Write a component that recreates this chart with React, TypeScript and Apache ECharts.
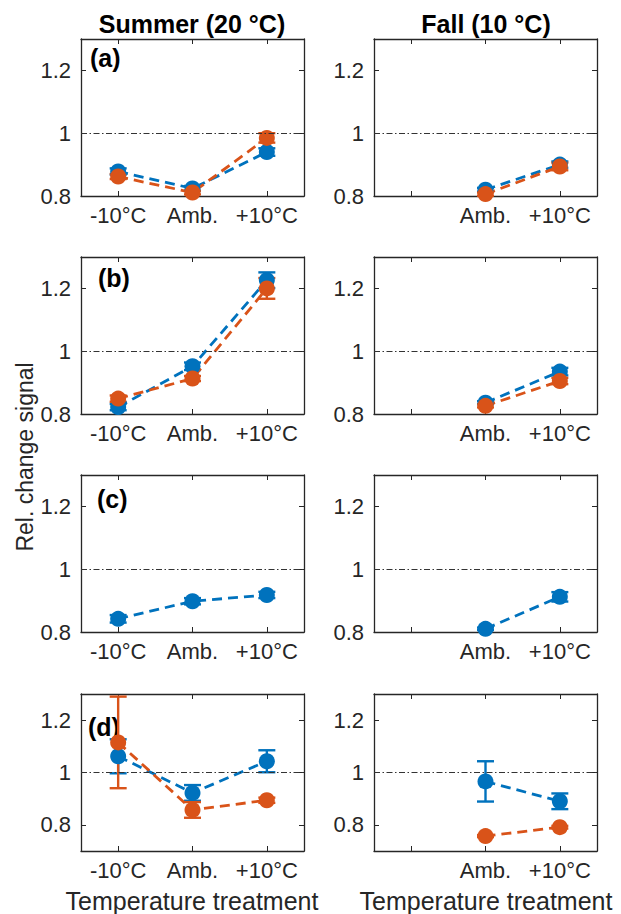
import React, { useEffect, useRef } from "react";
import * as echarts from "echarts";

const summerCats = ["-10°C", "Amb.", "+10°C"];
const fallCats = ["", "Amb.", "+10°C"];
const yTickValues = [0.8, 1, 1.2];

// (a)
const aSummerBlue = [0.878, 0.824, 0.94];
const aSummerBlueErr = [0.01, 0.008, 0.012];
const aSummerOrange = [0.862, 0.811, 0.985];
const aSummerOrangeErr = [0.008, 0.006, 0.015];
const aFallBlue = [null, 0.82, 0.9];
const aFallBlueErr = [null, 0.006, 0.01];
const aFallOrange = [null, 0.806, 0.894];
const aFallOrangeErr = [null, 0.005, 0.012];
// (b)
const bSummerBlue = [0.822, 0.952, 1.226];
const bSummerBlueErr = [0.01, 0.012, 0.025];
const bSummerOrange = [0.849, 0.913, 1.2];
const bSummerOrangeErr = [0.01, 0.008, 0.033];
const bFallBlue = [null, 0.836, 0.935];
const bFallBlueErr = [null, 0.005, 0.012];
const bFallOrange = [null, 0.826, 0.905];
const bFallOrangeErr = [null, 0.005, 0.01];
// (c)
const cSummerBlue = [0.842, 0.898, 0.918];
const cSummerBlueErr = [0.012, 0.01, 0.01];
const cFallBlue = [null, 0.81, 0.912];
const cFallBlueErr = [null, 0.004, 0.015];
// (d)
const dSummerBlue = [1.062, 0.922, 1.043];
const dSummerBlueErr = [0.065, 0.03, 0.042];
const dSummerOrange = [1.115, 0.857, 0.894];
const dSummerOrangeErr = [0.175, 0.03, 0.01];
const dFallBlue = [null, 0.966, 0.89];
const dFallBlueErr = [null, 0.077, 0.03];
const dFallOrange = [null, 0.757, 0.791];
const dFallOrangeErr = [null, 0.004, 0.005];

const BLUE = "#0072BD";
const ORANGE = "#D95319";
const AX = "#262626";
const FONT = "Liberation Sans, Arial, sans-serif";

type S = { color: string; vals: (number | null)[]; errs: (number | null)[] };
type Panel = { cats: string[]; yMin: number; yMax: number; series: S[] };

const panels: Panel[] = [
  { cats: summerCats, yMin: 0.8, yMax: 1.3, series: [
    { color: BLUE, vals: aSummerBlue, errs: aSummerBlueErr },
    { color: ORANGE, vals: aSummerOrange, errs: aSummerOrangeErr } ] },
  { cats: fallCats, yMin: 0.8, yMax: 1.3, series: [
    { color: BLUE, vals: aFallBlue, errs: aFallBlueErr },
    { color: ORANGE, vals: aFallOrange, errs: aFallOrangeErr } ] },
  { cats: summerCats, yMin: 0.8, yMax: 1.3, series: [
    { color: BLUE, vals: bSummerBlue, errs: bSummerBlueErr },
    { color: ORANGE, vals: bSummerOrange, errs: bSummerOrangeErr } ] },
  { cats: fallCats, yMin: 0.8, yMax: 1.3, series: [
    { color: BLUE, vals: bFallBlue, errs: bFallBlueErr },
    { color: ORANGE, vals: bFallOrange, errs: bFallOrangeErr } ] },
  { cats: summerCats, yMin: 0.8, yMax: 1.3, series: [
    { color: BLUE, vals: cSummerBlue, errs: cSummerBlueErr } ] },
  { cats: fallCats, yMin: 0.8, yMax: 1.3, series: [
    { color: BLUE, vals: cFallBlue, errs: cFallBlueErr } ] },
  { cats: summerCats, yMin: 0.7, yMax: 1.3, series: [
    { color: BLUE, vals: dSummerBlue, errs: dSummerBlueErr },
    { color: ORANGE, vals: dSummerOrange, errs: dSummerOrangeErr } ] },
  { cats: fallCats, yMin: 0.7, yMax: 1.3, series: [
    { color: BLUE, vals: dFallBlue, errs: dFallBlueErr },
    { color: ORANGE, vals: dFallOrange, errs: dFallOrangeErr } ] },
];

const gridLefts = [81, 374];
const gridTops = [39, 257, 475, 694];
const GW = 223;
const GH = 157;

const panelLabels = [
  { text: "(a)", x: 90, y: 58 },
  { text: "(b)", x: 98, y: 278 },
  { text: "(c)", x: 97, y: 499 },
  { text: "(d)", x: 88, y: 727 },
];

function errRender(color: string) {
  return (params: any, api: any) => {
    const x = api.value(0);
    const lo = api.coord([x, api.value(1)]);
    const hi = api.coord([x, api.value(2)]);
    const hw = 8.5;
    const st = { stroke: color, lineWidth: 2.4 };
    return {
      type: "group",
      children: [
        { type: "line", shape: { x1: lo[0], y1: lo[1], x2: hi[0], y2: hi[1] }, style: st },
        { type: "line", shape: { x1: lo[0] - hw, y1: lo[1], x2: lo[0] + hw, y2: lo[1] }, style: st },
        { type: "line", shape: { x1: hi[0] - hw, y1: hi[1], x2: hi[0] + hw, y2: hi[1] }, style: st },
      ],
    };
  };
}

export default function App() {
  const ref = useRef<HTMLDivElement>(null);
  useEffect(() => {
    if (!ref.current) return;
    const chart = echarts.init(ref.current, null, { renderer: "svg" });
    const grid: any[] = [];
    const xAxis: any[] = [];
    const yAxis: any[] = [];
    const series: any[] = [];
    const axisLine = { show: true, lineStyle: { color: AX, width: 1.3 } };
    panels.forEach((p, i) => {
      const r = Math.floor(i / 2);
      const c = i % 2;
      grid.push({ left: gridLefts[c], top: gridTops[r], width: GW, height: GH });
      const tick = { show: true, inside: true, length: 5, alignWithLabel: true, interval: 0, lineStyle: { color: AX } };
      xAxis.push({
        type: "category", gridIndex: i, data: p.cats, position: "bottom", boundaryGap: true,
        axisLine, axisTick: tick,
        axisLabel: { interval: 0, fontSize: 22, color: AX, fontFamily: FONT, margin: 8 },
        splitLine: { show: false },
      });
      xAxis.push({
        type: "category", gridIndex: i, data: p.cats, position: "top", boundaryGap: true,
        axisLine, axisTick: tick, axisLabel: { show: false }, splitLine: { show: false },
      });
      const ytick = { show: true, inside: true, length: 5, customValues: yTickValues, lineStyle: { color: AX } };
      yAxis.push({
        type: "value", gridIndex: i, min: p.yMin, max: p.yMax, position: "left",
        axisLine, axisTick: ytick,
        axisLabel: {
          customValues: yTickValues, fontSize: 22, color: AX, fontFamily: FONT, margin: 10,
          formatter: (v: number) => String(Math.round(v * 10) / 10),
        },
        splitLine: { show: false },
      });
      yAxis.push({
        type: "value", gridIndex: i, min: p.yMin, max: p.yMax, position: "right",
        axisLine, axisTick: ytick, axisLabel: { show: false }, splitLine: { show: false },
      });
      p.series.forEach((s, k) => {
        const errData: any[] = [];
        s.vals.forEach((v, j) => {
          const e = s.errs[j];
          if (v != null && e != null) errData.push([j, v - e, v + e]);
        });
        series.push({
          type: "custom", xAxisIndex: 2 * i, yAxisIndex: 2 * i, data: errData,
          renderItem: errRender(s.color), encode: { x: 0, y: [1, 2] }, silent: true,
        });
        const line: any = {
          type: "line", xAxisIndex: 2 * i, yAxisIndex: 2 * i, data: s.vals,
          symbol: "circle", symbolSize: 16, showSymbol: true,
          itemStyle: { color: s.color },
          lineStyle: { color: s.color, width: 2.8, type: [10, 6] },
          silent: true,
        };
        if (k === 0) {
          line.markLine = {
            silent: true, symbol: "none", label: { show: false },
            lineStyle: { color: "#333", width: 1.1, type: [6, 2.5, 1.5, 2.5] },
            data: [{ yAxis: 1 }],
          };
        }
        series.push(line);
      });
    });

    const graphic: any[] = [
      { type: "text", x: 192, y: 24, style: { text: "Summer (20 °C)", fill: "#000", fontSize: 25, fontWeight: "bold", fontFamily: FONT, align: "center", verticalAlign: "middle" } },
      { type: "text", x: 486, y: 24, style: { text: "Fall (10 °C)", fill: "#000", fontSize: 25, fontWeight: "bold", fontFamily: FONT, align: "center", verticalAlign: "middle" } },
      { type: "text", x: 25, y: 457, rotation: Math.PI / 2, style: { text: "Rel. change signal", fill: AX, fontSize: 23, fontFamily: FONT, align: "center", verticalAlign: "middle" } },
      { type: "text", x: 192, y: 901, style: { text: "Temperature treatment", fill: AX, fontSize: 25, fontFamily: FONT, align: "center", verticalAlign: "middle" } },
      { type: "text", x: 486, y: 901, style: { text: "Temperature treatment", fill: AX, fontSize: 25, fontFamily: FONT, align: "center", verticalAlign: "middle" } },
    ];
    panelLabels.forEach((l) => {
      graphic.push({ type: "text", x: l.x, y: l.y, style: { text: l.text, fill: "#000", fontSize: 25, fontWeight: "bold", fontFamily: FONT, align: "left", verticalAlign: "middle" } });
    });

    chart.setOption({
      animation: false,
      backgroundColor: "#fff",
      grid, xAxis, yAxis, series, graphic,
    });
    return () => chart.dispose();
  }, []);
  return <div ref={ref} style={{ position: "absolute", left: 0, top: 0, width: 621, height: 914 }} />;
}
